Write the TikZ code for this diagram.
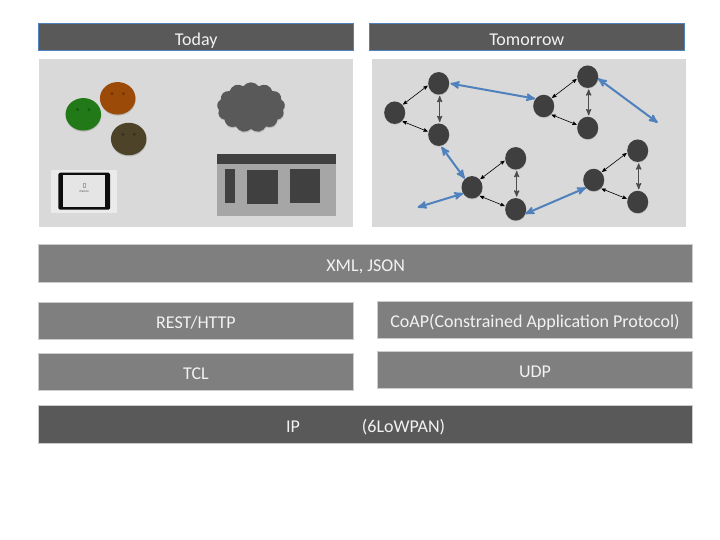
\documentclass[tikz,border=0pt]{standalone}
\usepackage{fontspec}
\setmainfont{Carlito}
\usepackage{tikz}
\usetikzlibrary{arrows,shapes,shadows,positioning}
\definecolor{barfill}{HTML}{7F7F7F}
\definecolor{darkfill}{HTML}{595959}
\definecolor{panelfill}{HTML}{D9D9D9}
\definecolor{linkblue}{HTML}{4F81BD}
\definecolor{peerfill}{HTML}{3F3F3F}
\tikzset{
	every node/.style={
		font=\fontsize{18}{20}\selectfont,
		text=white!95!black,
		inner sep=0pt,
		outer sep=0pt
	},
	header/.style={
		shape=rectangle,
		fill=darkfill,
		draw=linkblue,
		line width=0.8pt,
		text height=17.4pt,
		text depth=0pt,
		minimum width=315pt,
		minimum height=27.5pt
	},
	panel/.style={
		shape=rectangle,
		fill=panelfill,
		minimum width=314.5pt,
		minimum height=168pt
	},
	bar/.style={
		shape=rectangle,
		fill=barfill,
		draw=black!20,
		line width=0.5pt,
		text height=16pt,
		text depth=0pt,
		minimum width=315pt,
		minimum height=37.5pt
	},
	face/.style={
		shape=ellipse,
		minimum width=35.5pt,
		minimum height=32.5pt,
		drop shadow={shadow xshift=0.3pt,shadow yshift=-1.2pt,opacity=0.35}
	},
	eye/.style={
		shape=circle,
		fill=black,
		fill opacity=0.25,
		minimum size=3.4pt
	},
	block/.style={
		shape=rectangle,
		fill=#1
	},
	peer/.style={
		shape=ellipse,
		fill=peerfill,
		minimum width=21pt,
		minimum height=22.5pt,
		drop shadow={shadow xshift=0.2pt,shadow yshift=-0.8pt,opacity=0.3}
	},
	link/.style={
		<->,
		black,
		line width=0.6pt
	},
	uplink/.style={
		<->,
		black!70,
		line width=1.2pt
	},
	bluelink/.style={
		<->,
		linkblue,
		line width=2pt
	}
}

\begin{document}
\begin{tikzpicture}[>=stealth',x=1pt,y=-1pt]
  \useasboundingbox (0,0) rectangle (720,540);

  % titles and panels
  \node[header] (today)    at (196.2,37)   {Today};
  \node[header] (tomorrow) at (526.8,37)   {Tomorrow};
  \node[panel]  (left)     at (196.2,143.3) {};
  \node[panel]  (right)    at (528.8,143.3) {};

  % protocol stack
  \node[bar, minimum width=654pt] (xml) at (365.6,263.2) {XML, JSON};
  \node[bar] (rest) at (196,320.5) {REST/HTTP};
  \node[bar] (tcl)  at (196,371.5) {TCL};
  \node[bar] (coap) at (535,319.7) {CoAP(Constrained Application Protocol)};
  \node[bar] (udp)  at (535,369.7) {UDP};
  \node[bar, fill=darkfill, minimum width=654pt] (ip) at (365.6,424.3) {IP\hspace{62pt}(6LoWPAN)};

  % today: users
  \node[face, fill={rgb,255:red,33;green,122;blue,23}] (green)  at (83.3,114.3) {};
  \node[face, fill={rgb,255:red,156;green,74;blue,8}]  (orange) at (117.7,98.3) {};
  \node[face, fill={rgb,255:red,76;green,67;blue,40}]  (olive)  at (128.7,139)  {};
  \foreach \f in {green,orange,olive} {
    \node[eye] (\f L) at ([xshift=-5.7pt,yshift=4.7pt]\f.center) {};
    \node[eye] (\f R) at ([xshift=5.7pt,yshift=4.7pt]\f.center) {};
  }

  % today: tablet
  \node[block=black!8, minimum width=66pt, minimum height=43pt] (tablet) at (84,191.5) {};
  \node[block=black!95, rounded corners=1.5pt, minimum width=51.7pt, minimum height=37pt] (ipad) at (84.2,191.2) {};
  \node[block=black!10, minimum width=42pt, minimum height=31.4pt] (screen) at (84.3,191) {};
  \node[draw=black!35, line width=0.2pt, minimum width=2.5pt, minimum height=4pt] (icon) at (84.3,185.3) {};
  \node[font=\fontsize{3}{3}\selectfont, text=black!70] (air) at (84.3,191.4) {iPad Air};

  % today: cloud
  \node[shape=cloud, cloud puffs=13, cloud puff arc=110, aspect=1.4, fill=darkfill,
        minimum width=68pt, minimum height=50pt,
        drop shadow={shadow xshift=0.3pt,shadow yshift=-1.2pt,opacity=0.3}] (cloud) at (251,107.3) {};

  % today: web page
  \node[block=black!35, minimum width=119.3pt, minimum height=61.4pt] (page) at (276.3,185) {};
  \node[block=black!75, minimum width=119.3pt, minimum height=9.4pt] (pagetop) at (276.3,159) {};
  \node[block=black!75, minimum width=10pt, minimum height=33.4pt] (pagea) at (230,186) {};
  \node[block=black!75, minimum width=30.4pt, minimum height=33.4pt] (pageb) at (262.5,187) {};
  \node[block=black!75, minimum width=30.6pt, minimum height=33.4pt] (pagec) at (305,186) {};

  % tomorrow: peers
  \node[peer] (A1) at (438.7,83.3)  {};
  \node[peer] (A2) at (394.7,112.7) {};
  \node[peer] (A3) at (438.7,134.7) {};
  \node[peer] (B1) at (587.7,76.7)  {};
  \node[peer] (B2) at (543.7,106)   {};
  \node[peer] (B3) at (587.7,128)   {};
  \node[peer] (C1) at (515.7,158.3) {};
  \node[peer] (C2) at (472,187.3)   {};
  \node[peer] (C3) at (515.7,209.3) {};
  \node[peer] (D1) at (637.7,150.7) {};
  \node[peer] (D2) at (593.7,180)   {};
  \node[peer] (D3) at (637.7,202)   {};
  \coordinate (freeB) at (657.7,122.7);
  \coordinate (freeC) at (417.7,207.3);

  \foreach \g in {A,B,C,D} {
    \path (\g1.190) edge[link, shorten >=1pt, shorten <=1pt] (\g2.45)
          (\g2.-50) edge[link, shorten >=1pt, shorten <=1pt] (\g3.164)
          (\g1.-85) edge[uplink, shorten >=1.5pt, shorten <=1.5pt] (\g3.85);
  }

  \path (A1.east) edge[bluelink, shorten <=1.3pt, shorten >=0.5pt] (B2.138)
        (A3.-80)  edge[bluelink, shorten <=1.3pt, shorten >=0.5pt] (C2.130)
        (C3.-25)  edge[bluelink] (D2.225)
        (B1.-10)  edge[bluelink] (freeB)
        (C2.215)  edge[bluelink] (freeC);
\end{tikzpicture}
\end{document}
